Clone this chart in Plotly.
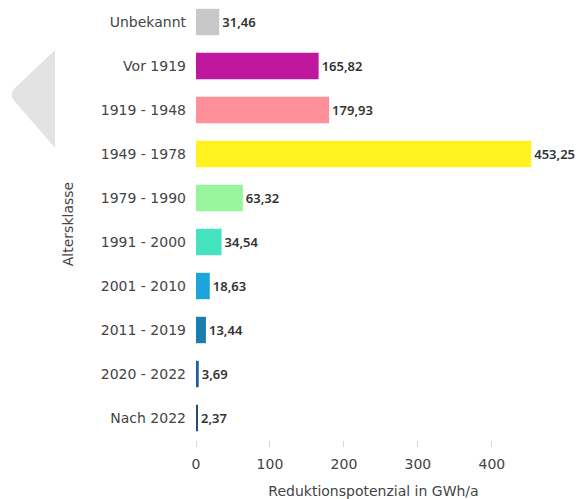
import plotly.graph_objects as go

categories = ["Unbekannt", "Vor 1919", "1919 - 1948", "1949 - 1978", "1979 - 1990",
              "1991 - 2000", "2001 - 2010", "2011 - 2019", "2020 - 2022", "Nach 2022"]
values = [31.46, 165.82, 179.93, 453.25, 63.32, 34.54, 18.63, 13.44, 3.69, 2.37]
colors = ["#c8c8c8", "#c0179f", "#ff8f99", "#fff21f", "#99f59b",
          "#45e3c0", "#1aa6dc", "#1a7db0", "#1f5e96", "#234b7d"]
labels = [f"{v:.2f}".replace(".", ",") for v in values]

FONT = "DejaVu Sans, sans-serif"

fig = go.Figure(go.Bar(
    x=values, y=categories, orientation="h",
    marker=dict(color=colors, line=dict(width=0)),
    text=labels, textposition="outside", cliponaxis=False,
    textfont=dict(family="Noto Sans, sans-serif", size=13, color="#333333", weight=600),
))

# grey carousel arrow on the left edge of the screenshot
fig.add_shape(type="path", xref="paper", yref="paper",
              path="M -0.397 0.903 L -0.51 0.815 Q -0.53 0.799 -0.51 0.783 L -0.397 0.676 Z",
              fillcolor="#e3e3e3", line=dict(width=0), layer="below")

# page body adds 8px offset, so the figure is 8px smaller than the window
fig.update_layout(
    width=575, height=491,
    paper_bgcolor="white", plot_bgcolor="white",
    font=dict(family=FONT, size=14, color="#444444"),
    margin=dict(t=0, b=59, l=188, r=32, autoexpand=False),
    bargap=0.4, showlegend=False,
    xaxis=dict(range=[0, 480], tickvals=[0, 100, 200, 300, 400], showgrid=False, zeroline=False,
               ticks="outside", ticklen=6, tickcolor="#d6d6d6", ticklabelstandoff=5, automargin=False,
               title=dict(text="Reduktionspotenzial in GWh/a", standoff=16, font=dict(size=14, color="#444444"))),
    yaxis=dict(range=[9.5, -0.318], showgrid=False, zeroline=False, ticklabelstandoff=9, automargin=False,
               title=dict(text="Altersklasse", font=dict(size=14, color="#444444"), standoff=23)),
)

fig.write_html("out.html")
